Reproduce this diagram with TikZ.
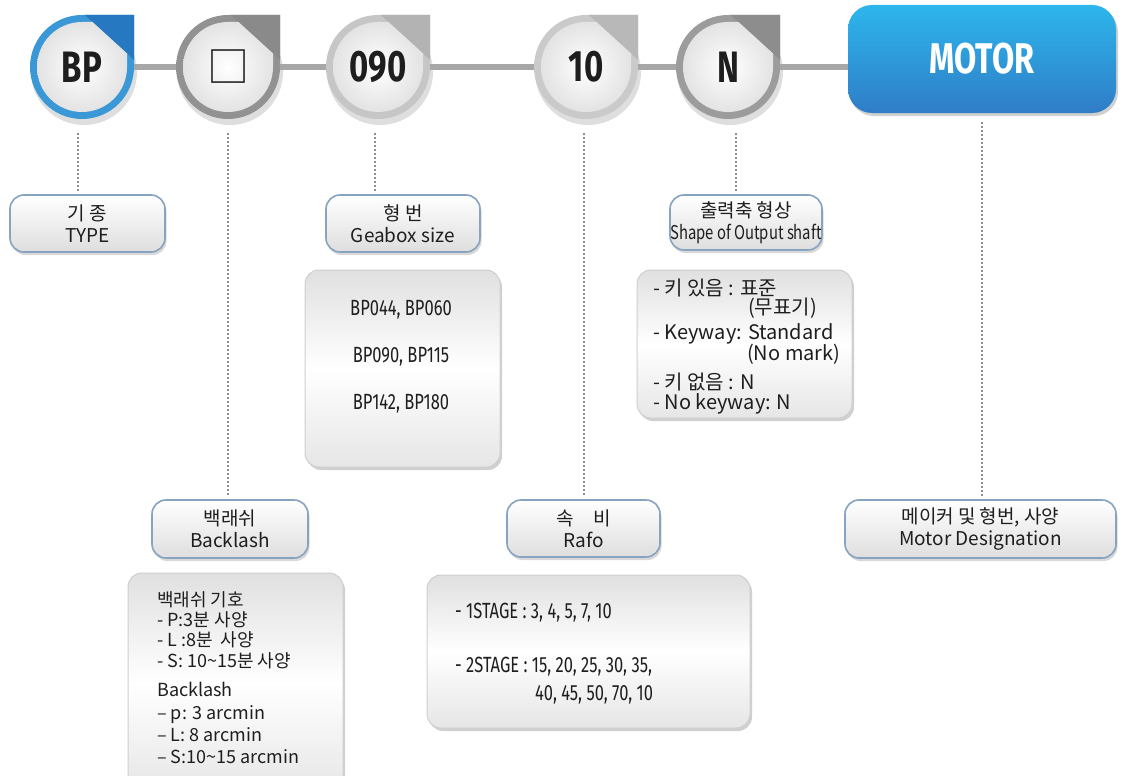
\documentclass[tikz,border=0pt]{standalone}
\usepackage{fontspec}
\setmainfont{Noto Sans CJK KR}
\newfontfamily\kr{Noto Sans CJK KR}
\newfontfamily\krc[FakeStretch=0.78]{Noto Sans CJK KR}
\newfontfamily\din[FakeStretch=0.75]{Fira Sans}
\newfontfamily\dinb[FakeStretch=0.75]{Fira Sans}
\usetikzlibrary{shadows,calc}
\definecolor{labline}{HTML}{86A3BF}
\definecolor{labbot}{HTML}{DEDEDE}
\definecolor{infoline}{HTML}{CFCFCF}
\definecolor{infotop}{HTML}{E0E0E0}
\definecolor{infobot}{HTML}{E6E6E6}
\definecolor{connc}{HTML}{A7A7A7}
\definecolor{dotc}{HTML}{8E8E8E}
\definecolor{bpring}{HTML}{3B98D6}
\definecolor{bptab}{HTML}{2679C0}
\definecolor{sqring}{HTML}{929292}
\definecolor{sqtab}{HTML}{8A8A8A}
\definecolor{gring}{HTML}{C6C6C6}
\definecolor{gtab}{HTML}{B3B3B3}
\definecolor{rring}{HTML}{CACACA}
\definecolor{rtab}{HTML}{B8B8B8}
\definecolor{nring}{HTML}{9C9C9C}
\definecolor{ntab}{HTML}{8D8D8D}
\definecolor{knobin}{HTML}{E3E3E3}
\definecolor{motortop}{HTML}{2DB6EC}
\definecolor{motorbot}{HTML}{2F7DC6}
\definecolor{txt}{HTML}{1E1E1E}
\newcommand{\fs}[2]{\fontsize{#1}{#2}\selectfont}
\newcommand{\knob}[6]{%
\begin{scope}[shift={(#2,#3)}]
 \fill[black,opacity=.13] (2,5) circle[radius=53];
 \fill[#4] (52,0) -- (52,-52) -- (0,-52) arc[start angle=270,end angle=0,radius=52] -- cycle;
 \begin{scope}
  \clip (52,0) -- (52,-52) -- (0,-52) arc[start angle=270,end angle=0,radius=52] -- cycle;
  \fill[#5] (-17.5,-70.5) -- (72.5,11.5) -- (72,-72) -- cycle;
 \end{scope}
 \begin{scope}
  \clip (-17.5,-70.5) -- (72.5,11.5) -- (72,72) -- (-72,72) -- (-72,-70.5) -- cycle;
  \shade[inner color=white, outer color=knobin] (45,0) -- (45,-45) -- (0,-45) arc[start angle=270,end angle=0,radius=45] -- cycle;
 \end{scope}
\end{scope}
\node[knobtxt] (#1) at (#2,#3) {\raisebox{-2pt}{#6}};}
\begin{document}
\begin{tikzpicture}[x=1pt,y=-1pt,
  knobtxt/.style={circle, minimum size=104, inner sep=0, text=txt, font=\dinb\bfseries\fs{44}{44}},
  lab/.style={draw=labline, line width=1.6pt, rounded corners=14pt, top color=white, bottom color=labbot,
     drop shadow={shadow xshift=1.5pt, shadow yshift=-3pt, opacity=.25, fill=black!60},
     inner sep=0, align=center, text=txt, font=\kr\fs{19}{22}},
  info/.style={draw=infoline, line width=1pt, rounded corners=14pt, top color=infotop, bottom color=infobot, middle color=white,
     drop shadow={shadow xshift=2pt, shadow yshift=-3pt, opacity=.3, fill=black!60}, inner sep=0},
  motorbox/.style={rounded corners=24pt, top color=motortop, bottom color=motorbot,
     drop shadow={shadow xshift=2pt, shadow yshift=-3pt, opacity=.3, fill=black!60},
     text=white, font=\dinb\bfseries\fs{43}{43}, inner sep=0},
  conn/.style={draw=connc, line width=6pt},
  dots/.style={draw=dotc, line width=1.5pt, dash pattern=on 1.5pt off 2.5pt},
  ltxt/.style={anchor=base west, inner sep=0, text=txt, font=\kr\fs{18}{18}},
  otxt/.style={anchor=base west, inner sep=0, text=txt, font=\kr\fs{20}{20}},
  rtxt/.style={anchor=base west, inner sep=0, text=txt, font=\din\fs{22}{22}}]
\clip (0,0) rectangle (1124,776);
\fill[white] (0,0) rectangle (1124,776);

% top row
\knob{bp}{82}{67}{bpring}{bptab}{BP}
\knob{sq}{228}{67}{sqring}{sqtab}{\kr\mdseries\fs{42}{42}□}
\knob{g}{378}{67}{gring}{gtab}{090}
\knob{r}{586}{67}{rring}{rtab}{10}
\knob{n}{728}{67}{nring}{ntab}{N}
\node[motorbox, minimum width=268, minimum height=108] (motor) at (982,59) {\raisebox{-3pt}{MOTOR}};

\draw[conn] (bp) -- (sq);
\draw[conn] (sq) -- (g);
\draw[conn] (g) -- (r);
\draw[conn] (r) -- (n);
\draw[conn] (n) -- (n -| motor.west);

% labels
\node[lab, minimum width=155, minimum height=57] (type) at (87.5,223.5) {기 종\\TYPE};
\node[lab, minimum width=154, minimum height=57] (gear) at (403,223.5) {형 번\\Geabox size};
\node[lab, minimum width=152, minimum height=55] (outl) at (746,222.5) {출력축 형상\\{\krc Shape of Output shaft}};
\node[lab, minimum width=156, minimum height=58] (backl) at (230,529) {백래쉬\\Backlash};
\node[lab, minimum width=153, minimum height=57] (ratio) at (583.5,528.5) {속\quad 비\\Rafo};
\node[lab, minimum width=271, minimum height=58] (motord) at (980.5,529) {메이커 및 형번, 사양\\Motor Designation};

% dotted leaders
\draw[dots] ($(bp.south)+(-4,14)$) -- ($(bp.south |- type.north)+(-4,-2)$);
\draw[dots] ($(sq.south)+(0,14)$) -- ($(sq.south |- backl.north)+(0,-2)$);
\draw[dots] ($(g.south)+(-3,14)$) -- ($(g.south |- gear.north)+(-3,-2)$);
\draw[dots] ($(r.south)+(-2,14)$) -- ($(r.south |- ratio.north)+(-2,-2)$);
\draw[dots] ($(n.south)+(8,14)$) -- ($(n.south |- outl.north)+(8,-2)$);
\draw[dots] ($(motor.south)+(0,9)$) -- ($(motor.south |- motord.north)+(0,-2)$);

% info boxes
\node[info, minimum width=195, minimum height=197] (gbox) at (402.5,368.5) {};
\node[inner sep=0, align=center, text=txt, font=\din\fs{22}{47}] (gtext) at (401,357) {BP044, BP060\\BP090, BP115\\BP142, BP180};

\node[info, minimum width=215, minimum height=148] (obox) at (744.5,344) {};
\node[otxt] (o1) at (653,295) {- 키 있음 : 표준};
\node[otxt] (o2) at (748,314) {(무표기)};
\node[otxt] (o3) at (653,339) {- Keyway: Standard};
\node[otxt] (o4) at (747,360) {(No mark)};
\node[otxt] (o5) at (653,389) {- 키 없음 : N};
\node[otxt] (o6) at (653,409) {- No keyway: N};

\node[info, minimum width=215, minimum height=220] (bbox) at (235.5,683) {};
\node[ltxt] (b1) at (157,606) {백래쉬 기호};
\node[ltxt] (b2) at (157,626) {- P:3분 사양};
\node[ltxt] (b3) at (157,646) {- L :8분\ \ 사양};
\node[ltxt] (b4) at (157,667) {- S: 10\textasciitilde15분 사양};
\node[ltxt] (b5) at (157,696) {Backlash};
\node[ltxt] (b6) at (157,719) {– p: 3 arcmin};
\node[ltxt] (b7) at (157,741) {– L: 8 arcmin};
\node[ltxt] (b8) at (157,763) {– S:10\textasciitilde15 arcmin};

\node[info, minimum width=323, minimum height=153] (rbox) at (588.5,651.5) {};
\node[rtxt] (r1) at (455,618) {- 1STAGE : 3, 4, 5, 7, 10};
\node[rtxt] (r2) at (455,672) {- 2STAGE : 15, 20, 25, 30, 35,};
\node[rtxt] (r3) at (535,700) {40, 45, 50, 70, 10};
\end{tikzpicture}
\end{document}
